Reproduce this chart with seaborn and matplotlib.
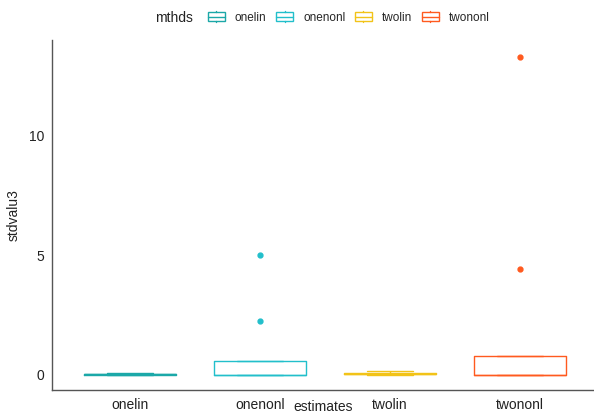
import matplotlib
matplotlib.use("Agg")
import matplotlib.pyplot as plt
from matplotlib.patches import Patch, Rectangle
from matplotlib.lines import Line2D
from matplotlib.legend_handler import HandlerBase
import seaborn as sns
import pandas as pd

# Standard-deviation estimates per method
methods = ["onelin", "onenonl", "twolin", "twononl"]
onelin = [0.0, 0.0, 0.01, 0.02, 0.03, 0.04, 0.05, 0.06, 0.07, 0.08]
onenonl = [0.0, 0.0, 0.0, 0.0, 0.0, 0.0, 0.0, 0.1, 0.3, 0.59, 0.59, 2.25, 5.0]
twolin = [0.0, 0.01, 0.02, 0.03, 0.05, 0.07, 0.08, 0.1, 0.15]
twononl = [0.0, 0.0, 0.0, 0.0, 0.0, 0.0, 0.0, 0.2, 0.5, 0.8, 0.8, 4.45, 13.3]
colors = ["#1BA8A8", "#22BFCB", "#F2C318", "#FF5A1F"]
y_ticks = [0, 5, 10]

df = pd.concat([
    pd.DataFrame({"estimates": m, "stdvalu3": v, "mthds": m})
    for m, v in zip(methods, [onelin, onenonl, twolin, twononl])
])

sns.set_style("white")
plt.rcParams["font.family"] = ["Liberation Sans", "DejaVu Sans"]

fig = plt.figure(figsize=(5.94, 4.18), dpi=100)
ax = fig.add_axes([0.0875, 0.067, 0.9125, 0.837])

sns.boxplot(
    data=df, x="estimates", y="stdvalu3", hue="mthds",
    order=methods, hue_order=methods, palette=colors,
    fill=False, dodge=False, width=0.71, linewidth=1.0,
    flierprops=dict(marker="o", markersize=3.5), legend=False, ax=ax,
)
# fill outlier markers with the box colour of their group
for line in ax.lines:
    if line.get_marker() == "o" and len(line.get_xdata()):
        idx = int(round(float(line.get_xdata()[0])))
        c = colors[idx]
        line.set_color(c)
        line.set_markerfacecolor(c)
        line.set_markeredgecolor(c)

ax.set_xlim(-0.6, 3.57)
ax.set_ylim(-0.63, 14.0)
ax.set_yticks(y_ticks)
ax.tick_params(axis="both", length=3, width=0.8, color="#333333",
               labelsize=10, labelcolor="#222222", pad=2.5)
for side in ["top", "right"]:
    ax.spines[side].set_visible(False)
for side in ["left", "bottom"]:
    ax.spines[side].set_color("#555555")
    ax.spines[side].set_linewidth(1.0)
ax.set_xlabel("estimates", fontsize=10, color="#222222")
ax.xaxis.label.set_va("bottom")
ax.xaxis.set_label_coords(0.5, -0.068)
ax.set_ylabel("stdvalu3", fontsize=10, color="#222222", labelpad=6)


class BoxGlyph(HandlerBase):
    """Legend key drawn as a small boxplot: box, median and whisker stubs."""

    def create_artists(self, legend, orig_handle, xdescent, ydescent,
                       width, height, fontsize, trans):
        c = orig_handle.get_edgecolor()
        x0, y0 = -xdescent, -ydescent
        box = Rectangle((x0, y0 + height * 0.1), width, height * 0.8,
                        facecolor="white", edgecolor=c, linewidth=1.0,
                        transform=trans)
        mid = Line2D([x0, x0 + width], [y0 + height / 2] * 2, color=c,
                     linewidth=1.0, transform=trans)
        cx = x0 + width / 2
        top = Line2D([cx, cx], [y0 + height * 0.9, y0 + height * 1.05],
                     color=c, linewidth=1.0, transform=trans)
        bot = Line2D([cx, cx], [y0 - height * 0.05, y0 + height * 0.1],
                     color=c, linewidth=1.0, transform=trans)
        return [box, mid, top, bot]


handles = [Patch(facecolor="white", edgecolor=c, linewidth=1.0, label=m)
           for m, c in zip(methods, colors)]
fig.legend(handles=handles, loc="center left", bbox_to_anchor=(0.332, 0.958),
           ncol=4, frameon=False, fontsize=8.5, handlelength=1.45,
           handleheight=1.0, columnspacing=0.8, handletextpad=0.85,
           handler_map={Patch: BoxGlyph()})
fig.text(0.261, 0.958, "mthds", fontsize=10, color="#222222", va="center")

fig.savefig("out.png", dpi=100)
